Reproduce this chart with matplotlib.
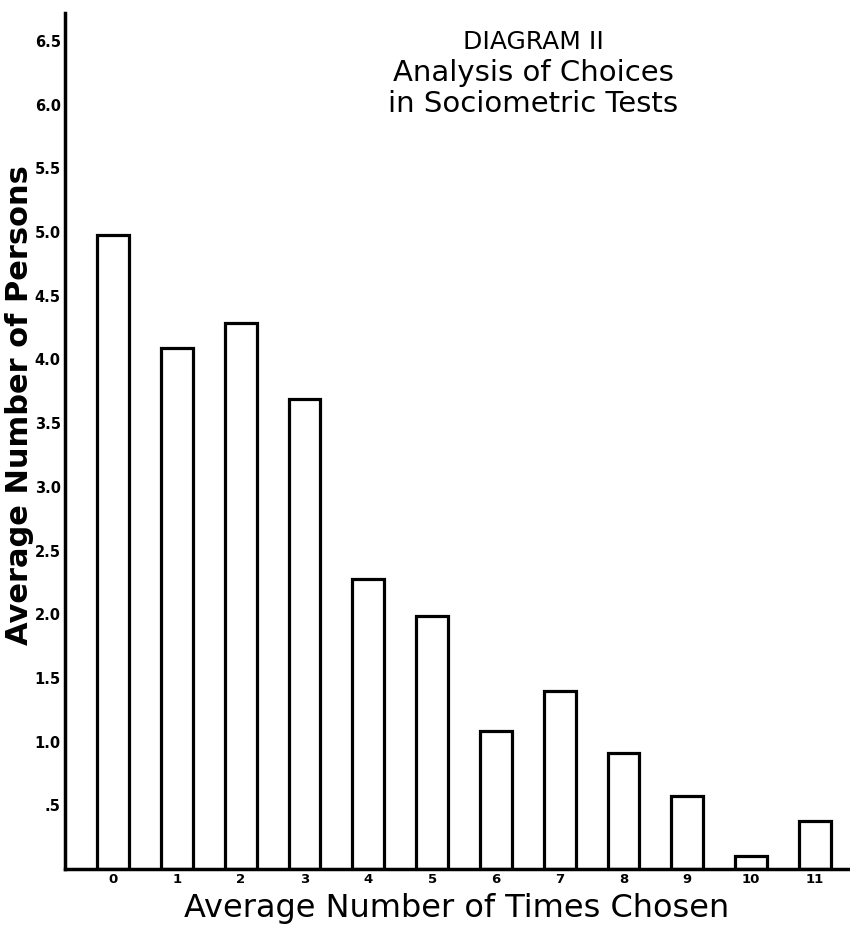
import matplotlib
matplotlib.use("Agg")
import matplotlib.pyplot as plt

# Data
categories = ["0", "1", "2", "3", "4", "5", "6", "7", "8", "9", "10", "11"]
persons = [4.98, 4.09, 4.29, 3.69, 2.28, 1.99, 1.08, 1.40, 0.91, 0.57, 0.10, 0.38]
ytick_values = [0.5, 1.0, 1.5, 2.0, 2.5, 3.0, 3.5, 4.0, 4.5, 5.0, 5.5, 6.0, 6.5]
ytick_labels = [".5", "1.0", "1.5", "2.0", "2.5", "3.0", "3.5", "4.0", "4.5", "5.0", "5.5", "6.0", "6.5"]

plt.rcParams['font.family'] = ['DejaVu Sans']

fig = plt.figure(figsize=(8.5, 9.25), dpi=100)
ax = fig.add_axes([0.0765, 0.0605, 0.9235, 0.9255])

x = list(range(len(categories)))
ax.bar(x, persons, width=0.5, facecolor="white", edgecolor="black", linewidth=2.3)

ax.set_xlim(-0.754, 11.55)
ax.set_ylim(0, 6.72)

for s in ["top", "right"]:
    ax.spines[s].set_visible(False)
ax.spines["left"].set_linewidth(2.5)
ax.spines["bottom"].set_linewidth(2.5)

ax.set_xticks(x)
ax.set_xticklabels(categories, fontsize=9.5, fontweight="bold")
ax.set_yticks(ytick_values)
ax.set_yticklabels(ytick_labels, fontsize=10.5, fontweight="bold")
ax.tick_params(axis="both", length=0)
ax.tick_params(axis="y", pad=3)
ax.tick_params(axis="x", pad=3)

fig.text(457 / 850, 1 - 917 / 925, "Average Number of Times Chosen",
         ha="center", va="baseline", fontsize=23)
fig.text(20 / 850, 1 - 405 / 925, "Average Number of Persons", rotation=90,
         ha="center", va="center", fontsize=22, fontweight="bold")

fig.text(533 / 850, 1 - 42 / 925, "DIAGRAM II", ha="center", va="center",
         fontsize=18)
fig.text(533 / 850, 1 - 73 / 925, "Analysis of Choices", ha="center", va="center",
         fontsize=21)
fig.text(533 / 850, 1 - 104 / 925, "in Sociometric Tests", ha="center", va="center",
         fontsize=21)

fig.savefig("out.png", dpi=100, facecolor="white")
